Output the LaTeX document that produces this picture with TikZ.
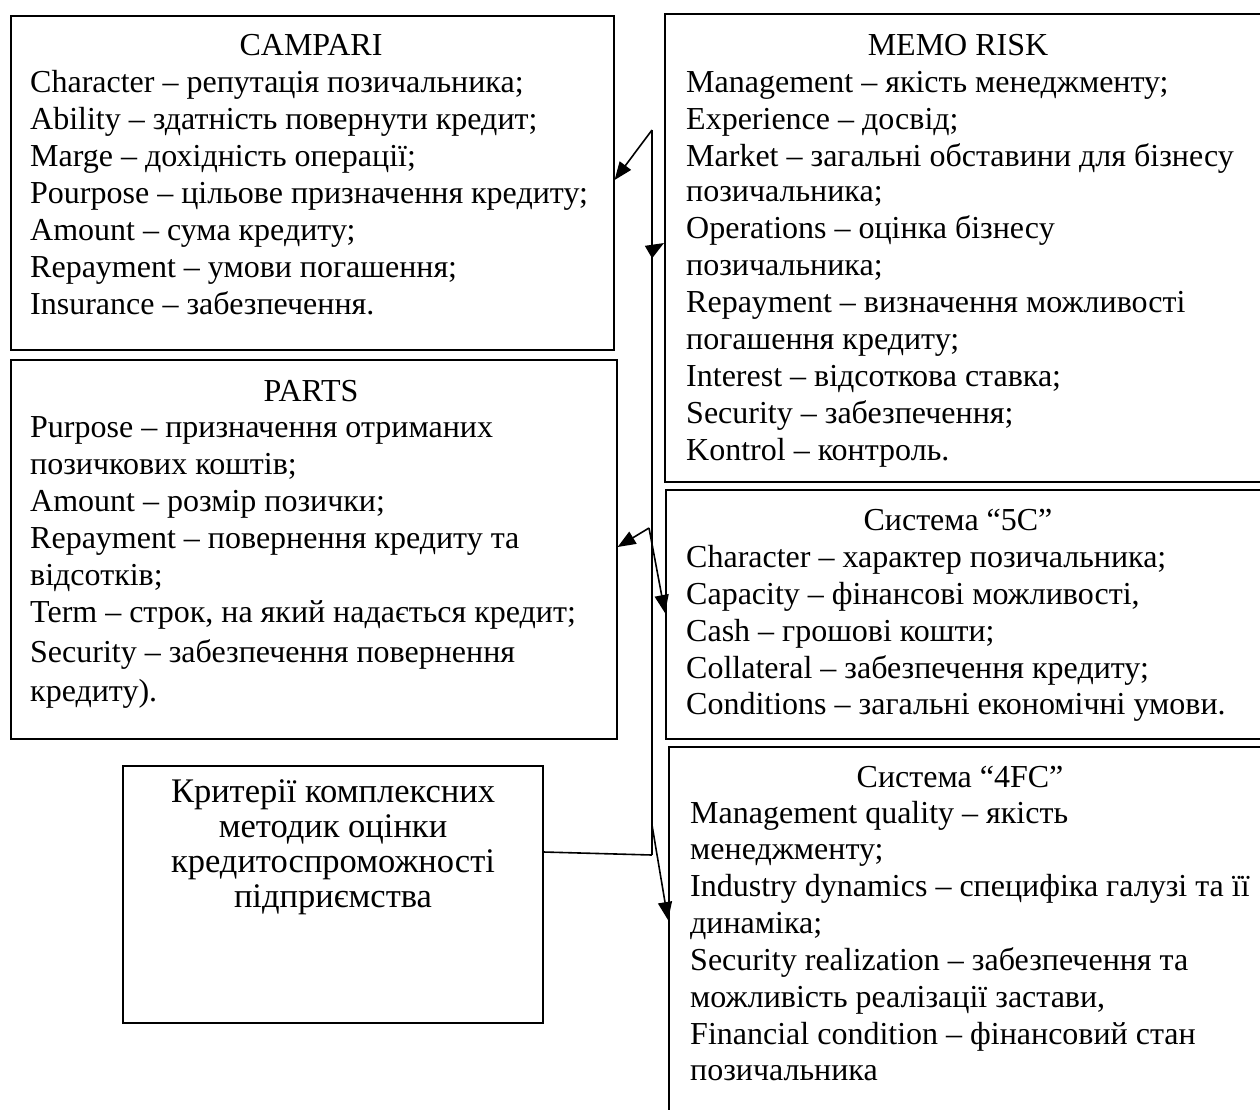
\documentclass[tikz,border=0pt]{standalone}
\usepackage{fontspec}
\setmainfont{Liberation Serif}
\usetikzlibrary{arrows.meta}
\begin{document}
\begin{tikzpicture}[x=1pt,y=-1pt,
  box/.style={draw, line width=1.6pt, inner sep=0pt, anchor=north west},
  ln/.style={anchor=mid west, inner sep=0pt, font=\fontsize{32}{37}\selectfont, yshift=-8pt},
  ttl/.style={anchor=mid, inner sep=0pt, font=\fontsize{32}{37}\selectfont, yshift=-8pt},
  ctr/.style={anchor=mid, inner sep=0pt, font=\fontsize{34.5}{37}\selectfont, yshift=-8pt},
  conn/.style={line width=1.6pt},
  arr/.style={conn, -{Triangle[length=18pt,width=14pt]}}]
\useasboundingbox (0,0) rectangle (1260,1109);
% boxes
\node[box, minimum width=603pt, minimum height=334pt] (campari) at (10,15) {};
\node[box, minimum width=606pt, minimum height=379pt] (parts) at (10,359) {};
\node[box, minimum width=610pt, minimum height=468pt] (memo) at (664,13) {};
\node[box, minimum width=610pt, minimum height=249pt] (fivec) at (665,489) {};
\node[box, minimum width=610pt, minimum height=400pt] (fourfc) at (668,746) {};
\node[box, minimum width=420pt, minimum height=257pt] (crit) at (122,765) {};
% CAMPARI
\node[ttl] (campariT) at (311,45) {CAMPARI};
\foreach \y/\t [count=\i] in {82/{Character – репутація позичальника;},
  119/{Ability – здатність повернути кредит;},
  156/{Marge – дохідність операції;},
  193/{Pourpose – цільове призначення кредиту;},
  230/{Amount – сума кредиту;},
  267/{Repayment – умови погашення;},
  304/{Insurance – забезпечення.}}
  \node[ln] (camp\i) at (30,\y) {\t};
% MEMO RISK
\node[ttl] (memoT) at (958,45) {MEMO RISK};
\foreach \y/\t [count=\i] in {82/{Management – якість менеджменту;},
  119/{Experience – досвід;},
  156/{Market – загальні обставини для бізнесу},
  191/{позичальника;},
  228/{Operations – оцінка бізнесу},
  265/{позичальника;},
  302/{Repayment – визначення можливості},
  339/{погашення кредиту;},
  376/{Interest – відсоткова ставка;},
  413/{Security – забезпечення;},
  450/{Kontrol – контроль.}}
  \node[ln] (memo\i) at (686,\y) {\t};
% PARTS
\node[ttl] (partsT) at (311,391) {PARTS};
\foreach \y/\t [count=\i] in {427/{Purpose – призначення отриманих},
  464/{позичкових коштів;},
  501/{Amount – розмір позички;},
  538/{Repayment – повернення кредиту та},
  575/{відсотків;},
  612/{Term – строк, на який надається кредит;},
  652/{Security – забезпечення повернення},
  691/{кредиту).}}
  \node[ln] (parts\i) at (30,\y) {\t};
% 5C
\node[ttl] (fivecT) at (958,520) {Система “5C”};
\foreach \y/\t [count=\i] in {557/{Character – характер позичальника;},
  594/{Capacity – фінансові можливості,},
  631/{Cash – грошові кошти;},
  668/{Collateral – забезпечення кредиту;},
  704/{Conditions – загальні економічні умови.}}
  \node[ln] (fivec\i) at (686,\y) {\t};
% 4FC
\node[ttl] (fourfcT) at (960,777) {Система “4FC”};
\foreach \y/\t [count=\i] in {813/{Management quality – якість},
  849/{менеджменту;},
  886/{Industry dynamics – специфіка галузі та її},
  923/{динаміка;},
  960/{Security realization – забезпечення та},
  997/{можливість реалізації застави,},
  1034/{Financial condition – фінансовий стан},
  1070/{позичальника}}
  \node[ln] (fourfc\i) at (690,\y) {\t};
% Criteria
\foreach \y/\t [count=\i] in {792/{Критерії комплексних},
  827/{методик оцінки},
  862/{кредитоспроможності},
  897/{підприємства}}
  \node[ctr] (crit\i) at (333,\y) {\t};
% connectors
\coordinate (top) at (652,130);
\coordinate (bot) at (652,855);
\coordinate (jm) at (652,250);
\coordinate (jp) at (649,528);
\coordinate (jf) at (652,825);
\draw[conn] (top) -- (bot);
\draw[conn] (crit.east |- 0,852) -- (bot);
\draw[arr] (top) -- (campari.east |- 0,180);
\draw[arr] (jm) -- (memo.west |- 0,243);
\draw[arr] (jp) -- (parts.east |- 0,547);
\draw[arr] (jp) -- (fivec.west |- 0,613);
\draw[arr] (jf) -- (fourfc.west |- 0,920);
\end{tikzpicture}
\end{document}
